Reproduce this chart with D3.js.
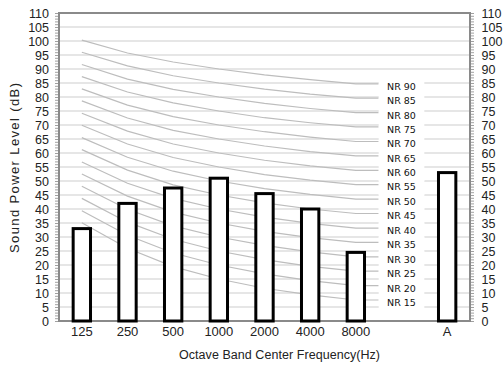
<!DOCTYPE html>
<html>
<head>
<meta charset="utf-8">
<script src="https://cdn.jsdelivr.net/npm/d3@7"></script>
<style>
  body { margin: 0; background: #fff; }
  text { font-family: "Liberation Sans", Arial, sans-serif; }
</style>
</head>
<body>
<svg id="chart" width="503" height="367"></svg>
<script>
// Octave bands (Hz) and measured sound power levels (dB)
const bands = ["125", "250", "500", "1000", "2000", "4000", "8000"];
const levels = [33, 42, 47.5, 51, 45.5, 40, 24.5];

// Overall A-weighted level
const overallLabel = "A";
const overallLevel = 53;

// Noise Rating curves: rating and level at each octave band 125..8000 Hz
const nrRatings = [15, 20, 25, 30, 35, 40, 45, 50, 55, 60, 65, 70, 75, 80, 85, 90];
const nrLevels = [
  [35.1, 26.0, 19.4, 15, 11.7, 9.3, 7.5],
  [39.4, 30.6, 24.3, 20, 16.8, 14.4, 12.6],
  [43.8, 35.3, 29.2, 25, 21.9, 19.5, 17.8],
  [48.1, 39.9, 34.0, 30, 27.0, 24.7, 22.9],
  [52.5, 44.6, 38.9, 35, 32.0, 29.8, 28.1],
  [56.8, 49.2, 43.8, 40, 37.1, 34.9, 33.2],
  [61.2, 53.9, 48.6, 45, 42.2, 40.0, 38.4],
  [65.5, 58.5, 53.5, 50, 47.3, 45.2, 43.5],
  [69.9, 63.2, 58.4, 55, 52.3, 50.3, 48.7],
  [74.2, 67.8, 63.2, 60, 57.4, 55.4, 53.8],
  [78.6, 72.5, 68.1, 65, 62.5, 60.5, 59.0],
  [82.9, 77.1, 73.0, 70, 67.6, 65.7, 64.1],
  [87.3, 81.8, 77.9, 75, 72.6, 70.8, 69.3],
  [91.6, 86.4, 82.7, 80, 77.7, 75.9, 74.4],
  [96.0, 91.1, 87.6, 85, 82.8, 81.0, 79.6],
  [100.3, 95.7, 92.5, 90, 87.9, 86.2, 84.7]
];

// Axis tick labels
const yTickValues = [0, 5, 10, 15, 20, 25, 30, 35, 40, 45, 50, 55, 60, 65, 70, 75, 80, 85, 90, 95, 100, 105, 110];
const yMax = 110;

const xTitle = "Octave Band Center Frequency(Hz)";
const yTitle = "Sound Power Level (dB)";

const W = 503, H = 367;
const plot = { left: 59, right: 470, top: 13, bottom: 321 };

const svg = d3.select("#chart");

// one slot per band, an empty slot holding the NR labels, then the A-weighted bar
const slotKeys = [...bands, "NR", overallLabel];
const x = d3.scaleBand()
  .domain(slotKeys)
  .range([plot.left, plot.right])
  .paddingInner(0.62)
  .paddingOuter(0.31);
const y = d3.scaleLinear().domain([0, yMax]).range([plot.bottom, plot.top]);

const cx = k => x(k) + x.bandwidth() / 2;
const labelColLeft = cx("NR") - x.step() / 2;
const labelColCenter = cx("NR");

// horizontal gridlines
svg.append("g")
  .selectAll("line")
  .data(yTickValues.filter(v => v > 0 && v < yMax))
  .join("line")
  .attr("x1", plot.left).attr("x2", plot.right)
  .attr("y1", d => y(d)).attr("y2", d => y(d))
  .attr("stroke", "#cdcdcd").attr("stroke-width", 1);

// NR curves, carried flat to the label column
const curveLine = d3.line().x(d => d[0]).y(d => y(d[1]));
svg.append("g")
  .selectAll("path")
  .data(nrLevels)
  .join("path")
  .attr("d", vals => curveLine([
    ...vals.map((v, i) => [cx(bands[i]), v]),
    [labelColLeft, vals[vals.length - 1]]
  ]))
  .attr("fill", "none")
  .attr("stroke", "#bdbdbd")
  .attr("stroke-width", 1.2);

// NR labels on white backing
const labels = svg.append("g")
  .selectAll("g")
  .data(nrRatings.map((r, i) => ({ r, v: nrLevels[i][nrLevels[i].length - 1] })))
  .join("g")
  .attr("transform", d => `translate(0,${y(d.v) + 2.5})`);
labels.append("rect")
  .attr("x", labelColLeft).attr("width", x.step())
  .attr("y", -8).attr("height", 16)
  .attr("fill", "#fff");
labels.append("text")
  .attr("x", labelColCenter)
  .attr("dy", "0.35em")
  .attr("text-anchor", "middle")
  .style("font-family", "'DejaVu Sans', sans-serif")
  .style("font-size", "9.5px")
  .attr("fill", "#111")
  .text(d => `NR ${d.r}`);

// plot frame
svg.append("rect")
  .attr("x", plot.left).attr("y", plot.top)
  .attr("width", plot.right - plot.left).attr("height", plot.bottom - plot.top)
  .attr("fill", "none").attr("stroke", "#8a8a8a").attr("stroke-width", 2);

// minor ticks every 1 dB on both vertical axes
const minor = d3.range(0, yMax + 1);
svg.append("g").attr("transform", `translate(${plot.left - 1},0)`)
  .call(d3.axisLeft(y).tickValues(minor).tickSize(3).tickFormat(""))
  .call(g => g.select(".domain").remove())
  .call(g => g.selectAll("line").attr("stroke", "#a0a0a0"));
svg.append("g").attr("transform", `translate(${plot.right + 1},0)`)
  .call(d3.axisRight(y).tickValues(minor).tickSize(3).tickFormat(""))
  .call(g => g.select(".domain").remove())
  .call(g => g.selectAll("line").attr("stroke", "#a0a0a0"));

// y tick labels, left and right
const styleTicks = size => g => {
  g.select(".domain").remove();
  g.selectAll("line").remove();
  g.selectAll("text")
    .style("font-family", "'Liberation Sans', Arial, sans-serif")
    .style("font-size", size)
    .attr("fill", "#222");
};
svg.append("g").attr("transform", `translate(${plot.left},0)`)
  .call(d3.axisLeft(y).tickValues(yTickValues).tickSize(0).tickPadding(10))
  .call(styleTicks("12.5px"));
svg.append("g").attr("transform", `translate(${plot.right},0)`)
  .call(d3.axisRight(y).tickValues(yTickValues).tickSize(0).tickPadding(11.5))
  .call(styleTicks("12.5px"));

// x tick labels
svg.append("g").attr("transform", `translate(0,${plot.bottom})`)
  .call(d3.axisBottom(x).tickValues([...bands, overallLabel]).tickSize(0).tickPadding(6))
  .call(styleTicks("13px"));

// bars
const barData = bands.map((b, i) => ({ k: b, v: levels[i] }))
  .concat([{ k: overallLabel, v: overallLevel }]);
svg.append("g")
  .selectAll("rect")
  .data(barData)
  .join("rect")
  .attr("x", d => x(d.k))
  .attr("width", x.bandwidth())
  .attr("y", d => y(d.v))
  .attr("height", d => y(0) - y(d.v))
  .attr("fill", "#fff")
  .attr("stroke", "#000")
  .attr("stroke-width", 3);

// axis titles
svg.append("text")
  .attr("x", 279.5).attr("y", 359)
  .attr("text-anchor", "middle")
  .style("font-size", "12.5px")
  .attr("fill", "#222")
  .attr("textLength", 201).attr("lengthAdjust", "spacing")
  .text(xTitle);

svg.append("text")
  .attr("transform", `translate(18.5,${(plot.top + plot.bottom) / 2 + 1}) rotate(-90)`)
  .attr("text-anchor", "middle")
  .style("font-size", "13px")
  .attr("fill", "#222")
  .attr("textLength", 170).attr("lengthAdjust", "spacing")
  .text(yTitle);
</script>
</body>
</html>
